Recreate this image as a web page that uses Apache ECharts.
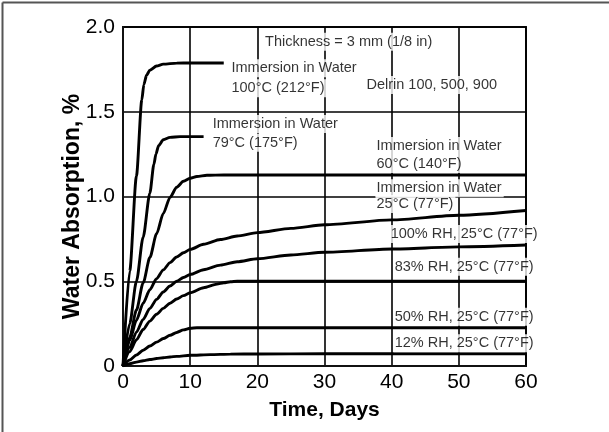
<!DOCTYPE html>
<html>
<head>
<meta charset="utf-8">
<script src="https://cdn.jsdelivr.net/npm/echarts@6/dist/echarts.min.js"></script>
<style>
html,body{margin:0;padding:0;background:#fff;}
#chart{width:609px;height:432px;}
</style>
</head>
<body>
<div id="chart"></div>
<script>
// ---- data (days, water absorption %) ----
const xTicks = [0, 10, 20, 30, 40, 50, 60];
const yTicks = [0, 0.5, 1.0, 1.5, 2.0];

const imm100C = [[0,0],[1,0.56],[2,1.12],[2.8,1.57],[3.1,1.66],[3.5,1.715],[4,1.745],[5,1.77],[6,1.781],[8,1.787],[10,1.788],[15,1.788]];
const imm79C  = [[0,0],[1,0.25],[2,0.5],[3,0.76],[4,1.02],[4.6,1.19],[4.9,1.25],[5.3,1.3],[6,1.335],[7,1.349],[8.5,1.353],[12,1.353]];
const imm60C  = [[0,0],[1,0.17],[2,0.33],[3,0.49],[4,0.64],[5,0.78],[6,0.9],[7,0.995],[8,1.055],[9,1.09],[10,1.108],[11,1.118],[12.5,1.125],[15,1.127],[60,1.127]];
const imm25C  = [[0,0],[1,0.15],[2,0.27],[3,0.37],[4,0.45],[5,0.515],[6,0.567],[7,0.61],[8,0.643],[9,0.668],[10,0.688],[12,0.718],[14.5,0.746],[17,0.767],[20,0.787],[25,0.812],[30,0.833],[40,0.862],[50,0.889],[60,0.917]];
const rh100   = [[0,0],[1,0.11],[2,0.2],[3,0.275],[4,0.34],[5,0.393],[6,0.437],[7,0.472],[8,0.5],[9,0.522],[10,0.54],[12,0.568],[14.5,0.595],[17,0.615],[20,0.633],[25,0.655],[30,0.671],[40,0.69],[50,0.703],[60,0.714]];
const rh83    = [[0,0],[1,0.085],[2,0.155],[3,0.215],[4,0.265],[5,0.305],[6,0.34],[7,0.37],[8,0.395],[9,0.415],[10,0.432],[12,0.462],[14,0.483],[15,0.491],[16,0.497],[17,0.5],[60,0.5]];
const rh50    = [[0,0],[1,0.035],[2,0.065],[3,0.093],[4,0.118],[5,0.141],[6,0.162],[7,0.181],[8,0.198],[9,0.213],[10,0.223],[11,0.226],[60,0.226]];
const rh12    = [[0,0],[1,0.013],[2,0.023],[3,0.031],[4,0.038],[5,0.044],[6,0.049],[7,0.053],[8,0.057],[10,0.063],[13,0.067],[16,0.07],[20,0.071],[30,0.072],[60,0.072]];

const seriesNames = ['Immersion in Water 100°C','Immersion in Water 79°C','Immersion in Water 60°C','Immersion in Water 25°C','100% RH','83% RH','50% RH','12% RH'];
const seriesData = [imm100C, imm79C, imm60C, imm25C, rh100, rh83, rh50, rh12];

const noteTexts = [
  'Thickness = 3 mm (1/8 in)',
  'Immersion in Water', '100°C (212°F)',
  'Immersion in Water', '79°C (175°F)',
  'Delrin 100, 500, 900',
  'Immersion in Water', '60°C (140°F)',
  'Immersion in Water', '25°C (77°F)',
  '100% RH, 25°C (77°F)',
  '83% RH, 25°C (77°F)',
  '50% RH, 25°C (77°F)',
  '12% RH, 25°C (77°F)'
];
const xLabel = 'Time, Days';
const yLabel = 'Water Absorption, %';

// ---- chart ----
const noteAnchors = [
  [21.0, 1.913],
  [16.0, 1.756], [16.0, 1.638],
  [13.2, 1.428], [13.2, 1.317],
  [36.1, 1.658],
  [37.6, 1.298], [37.6, 1.192],
  [37.6, 1.048], [37.6, 0.956],
  [39.7, 0.779],
  [40.3, 0.586],
  [40.3, 0.291],
  [40.3, 0.134]
];
const SANS = "'Liberation Sans',Arial,Helvetica,sans-serif";

const chart = echarts.init(document.getElementById('chart'), null, {renderer:'canvas'});

const lineSeries = seriesData.map((d, i) => ({
  name: seriesNames[i],
  type: 'line',
  data: d,
  showSymbol: false,
  smooth: 0.25,
  smoothMonotone: 'x',
  lineStyle: {color:'#000', width: 2.9},
  z: 3,
  silent: true
}));

const noteSeries = {
  type: 'scatter',
  symbolSize: 0,
  silent: true,
  z: 5,
  data: noteAnchors.map((p, i) => ({
    value: p,
    label: {formatter: noteTexts[i]}
  })),
  label: {
    show: true,
    position: 'right',
    distance: 0,
    color: '#000',
    fontFamily: SANS,
    fontSize: 14.5,
    backgroundColor: '#fff',
    padding: [1, 2, 1, 1],
    lineHeight: 16
  }
};

chart.setOption({
  animation: false,
  backgroundColor: '#fff',
  grid: {left: 123, top: 27, width: 403, height: 339, show: true, borderColor: '#111', borderWidth: 2, backgroundColor: 'transparent'},
  xAxis: {
    type: 'value', min: xTicks[0], max: xTicks[xTicks.length-1], interval: 10,
    name: xLabel, nameLocation: 'middle', nameGap: 34, nameMoveOverlap: false,
    nameTextStyle: {fontFamily: SANS, fontWeight: 'bold', fontSize: 21, color: '#000'},
    axisLine: {show: true, lineStyle: {color: '#111', width: 2}},
    axisTick: {show: false},
    axisLabel: {fontFamily: SANS, fontSize: 21, color: '#000', margin: 6},
    splitLine: {show: true, lineStyle: {color: '#000', width: 1.6}}
  },
  yAxis: {
    type: 'value', min: yTicks[0], max: yTicks[yTicks.length-1], interval: 0.5,
    name: yLabel, nameLocation: 'middle', nameGap: 39, nameRotate: 90, nameMoveOverlap: false,
    nameTextStyle: {fontFamily: SANS, fontWeight: 'bold', fontSize: 23, color: '#000', padding: [0, 20, 0, 0]},
    axisLine: {show: true, lineStyle: {color: '#111', width: 2}},
    axisTick: {show: false},
    axisLabel: {fontFamily: SANS, fontSize: 21, color: '#000', margin: 8,
      formatter: v => v === 0 ? '0' : v.toFixed(1)},
    splitLine: {show: true, lineStyle: {color: '#000', width: 1.6}}
  },
  graphic: [
    {type: 'line', shape: {x1: 2.5, y1: 2.5, x2: 609, y2: 2.5}, style: {stroke: '#555', lineWidth: 2}},
    {type: 'line', shape: {x1: 2.5, y1: 2.5, x2: 2.5, y2: 432}, style: {stroke: '#555', lineWidth: 2}}
  ],
  series: lineSeries.concat([noteSeries])
});
</script>
</body>
</html>
